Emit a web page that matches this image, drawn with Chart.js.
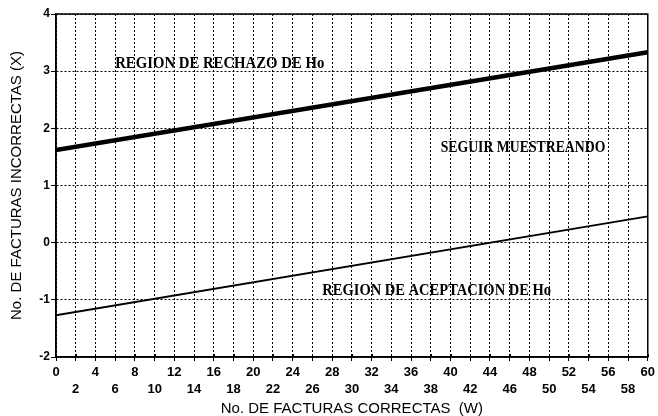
<!DOCTYPE html>
<html><head><meta charset="utf-8">
<script src="https://cdn.jsdelivr.net/npm/chart.js@4"></script>
<style>html,body{margin:0;padding:0;background:#fff}#wrap{width:658px;height:416px}</style>
</head><body><div id="wrap"><canvas id="c" width="658" height="416"></canvas></div>
<script>
// ---- data ----
const rejectX = [0, 60];
const rejectY = [1.62, 3.33];
const acceptX = [0, 60];
const acceptY = [-1.27, 0.46];
const xTicks = [0,2,4,6,8,10,12,14,16,18,20,22,24,26,28,30,32,34,36,38,40,42,44,46,48,50,52,54,56,58,60];
const yTicks = [-2,-1,0,1,2,3,4];
const regionLabels = ['REGION DE RECHAZO DE Ho', 'SEGUIR MUESTREANDO', 'REGION DE ACEPTACION DE Ho'];
const xTitle = 'No. DE FACTURAS CORRECTAS  (W)';
const yTitle = 'No. DE FACTURAS INCORRECTAS (X)';

// placement of the region labels (data units: x start, x end, y centre)
const labelPlacement = [
  {x0: 6.0, x1: 27.2, y: 3.14},
  {x0: 39.0, x1: 55.7, y: 1.67},
  {x0: 27.0, x1: 50.2, y: -0.83}
];

const toPts = (xs, ys) => xs.map((x, i) => ({x: x, y: ys[i]}));

const extras = {
  id: 'extras',
  afterDatasetsDraw(chart) {
    const {ctx, chartArea: a, scales: {x, y}} = chart;
    ctx.save();
    // frame
    ctx.strokeStyle = '#000';
    ctx.lineWidth = 1.5;
    ctx.strokeRect(a.left, a.top, a.right - a.left, a.bottom - a.top);
    // x-axis tick marks crossing the axis upward
    ctx.lineWidth = 1;
    xTicks.forEach(v => {
      const px = Math.round(x.getPixelForValue(v)) + 0.5;
      ctx.beginPath(); ctx.moveTo(px, a.bottom - 3); ctx.lineTo(px, a.bottom); ctx.stroke();
    });
    // region labels
    ctx.fillStyle = '#000';
    ctx.font = 'bold 17px "Liberation Serif", "DejaVu Serif", serif';
    ctx.textBaseline = 'middle';
    regionLabels.forEach((t, i) => {
      const p = labelPlacement[i];
      const px0 = x.getPixelForValue(p.x0), px1 = x.getPixelForValue(p.x1);
      const py = y.getPixelForValue(p.y);
      const w = ctx.measureText(t).width;
      ctx.save();
      ctx.translate(px0, py);
      ctx.scale((px1 - px0) / w, 1);
      ctx.fillText(t, 0, 0);
      ctx.restore();
    });
    // axis titles
    ctx.font = '15px "Liberation Sans", Arial, sans-serif';
    ctx.textAlign = 'center';
    ctx.fillText(xTitle, (a.left + a.right) / 2, a.bottom + 52);
    ctx.save();
    ctx.translate(17, (a.top + a.bottom) / 2);
    ctx.rotate(-Math.PI / 2);
    ctx.fillText(yTitle, 0, 0);
    ctx.restore();
    ctx.restore();
  }
};

new Chart(document.getElementById('c'), {
  type: 'line',
  data: {
    datasets: [
      {data: toPts(rejectX, rejectY), borderColor: '#000', borderWidth: 4.5, pointRadius: 0, fill: false, tension: 0},
      {data: toPts(acceptX, acceptY), borderColor: '#000', borderWidth: 1.8, pointRadius: 0, fill: false, tension: 0}
    ]
  },
  options: {
    responsive: false,
    animation: false,
    devicePixelRatio: 1,
    layout: {padding: {top: 14, right: 8, left: 0, bottom: 0}},
    plugins: {legend: {display: false}, tooltip: {enabled: false}},
    scales: {
      x: {
        type: 'linear', min: 0, max: 60,
        afterBuildTicks: s => { s.ticks = xTicks.map(v => ({value: v})); },
        afterFit: s => { s.height = 59; },
        grid: {color: '#000', lineWidth: 1, tickLength: 4, tickColor: '#000'},
        border: {display: true, color: '#000', width: 1.5, dash: [2, 2]},
        ticks: {
          color: '#000', padding: 3, maxRotation: 0, autoSkip: false,
          font: {family: '"Liberation Sans", Arial, sans-serif', size: 13, weight: 'bold', lineHeight: 1.3},
          callback: v => (v % 4 === 0 ? [String(v)] : ['', String(v)])
        }
      },
      y: {
        type: 'linear', min: -2, max: 4,
        afterBuildTicks: s => { s.ticks = yTicks.map(v => ({value: v})); },
        afterFit: s => { s.width = 56; },
        grid: {color: '#000', lineWidth: 1, tickLength: 5, tickColor: '#000'},
        border: {display: true, color: '#000', width: 1.5, dash: [2, 2]},
        ticks: {
          color: '#000', padding: 1,
          font: {family: '"Liberation Sans", Arial, sans-serif', size: 12, weight: 'bold'},
          callback: v => String(v)
        }
      }
    }
  },
  plugins: [extras]
});
</script></body></html>
